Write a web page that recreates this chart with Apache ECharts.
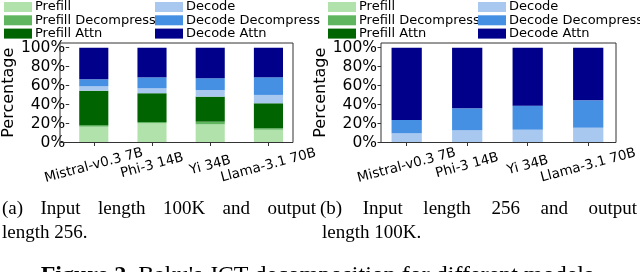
<!DOCTYPE html>
<html>
<head>
<meta charset="utf-8">
<script src="https://cdn.jsdelivr.net/npm/echarts@6/dist/echarts.min.js"></script>
<style>
html,body{margin:0;padding:0;background:#fff;}
#c{width:640px;height:272px;}
</style>
</head>
<body>
<div id="c"></div>
<script>
// ---- data ----
const categories = ['Mistral-v0.3 7B', 'Phi-3 14B', 'Yi 34B', 'Llama-3.1 70B'];
const seriesNames = ['Prefill', 'Prefill Decompress', 'Prefill Attn', 'Decode', 'Decode Decompress', 'Decode Attn'];
const yTicks = [0, 20, 40, 60, 80, 100];

// (a) Input 100K, output 256
const a_prefill = [16.7, 20.3, 19.2, 13.5];
const a_prefillDecompress = [1.6, 1.3, 2.8, 1.5];
const a_prefillAttn = [36.4, 30.4, 26.4, 26.4];
const a_decode = [4.6, 5.2, 7.0, 8.8];
const a_decodeDecompress = [7.4, 11.6, 12.4, 18.6];
const a_decodeAttn = [33.3, 31.2, 32.2, 31.2];

// (b) Input 256, output 100K
const b_prefill = [0, 0, 0, 0];
const b_prefillDecompress = [0, 0, 0, 0];
const b_prefillAttn = [0, 0, 0, 0];
const b_decode = [9.7, 12.9, 13.5, 15.6];
const b_decodeDecompress = [14.1, 23.2, 25.4, 28.9];
const b_decodeAttn = [76.2, 63.9, 61.1, 55.5];

const captionA = ['(a) Input length 100K and output', 'length 256.'];
const captionB = ['(b) Input length 256 and output', 'length 100K.'];
const figureCaptionBold = 'Figure 2.';
const figureCaptionRest = " Baku's JCT decomposition for different models.";

// ---- styles ----
const colors = ['#b2e2ac', '#5fb65f', '#006400', '#a9c8ef', '#4590e3', '#00008b'];
const SANS = 'DejaVu Sans';
const SERIF = 'Liberation Serif';

const setA = [a_prefill, a_prefillDecompress, a_prefillAttn, a_decode, a_decodeDecompress, a_decodeAttn];
const setB = [b_prefill, b_prefillDecompress, b_prefillAttn, b_decode, b_decodeDecompress, b_decodeAttn];

// plot frames (axes boxes) in pixels
const frames = [
  {x: 60, w: 233},
  {x: 381, w: 235}
];
const TOP = 43, H = 99.5;
// matplotlib-like x margins: slot = frame / 3.85
const grids = frames.map(f => {
  const slot = f.w / 3.85;
  const off = (4 * slot - f.w) / 2;
  return {left: f.x - off, width: 4 * slot, top: TOP, height: H, _off: off};
});

function xAxis(gi) {
  return {
    type: 'category', gridIndex: gi, data: categories,
    axisLine: {show: false},
    splitLine: {show: false},
    axisTick: {show: true, alignWithLabel: true, length: 3.5, lineStyle: {color: '#333'}},
    axisLabel: {
      interval: 0,
      rotate: 15, align: 'center', verticalAlign: 'middle', margin: 23,
      fontFamily: SANS, fontSize: 13.5, color: '#000'
    }
  };
}
function yAxis(gi) {
  return {
    type: 'value', gridIndex: gi, min: 0, max: 105,
    offset: -grids[gi]._off,
    name: 'Percentage', nameLocation: 'middle', nameGap: 50, nameRotate: 90,
    nameTextStyle: {fontFamily: SANS, fontSize: 16, color: '#000'},
    axisLine: {show: false},
    splitLine: {show: false},
    axisTick: {show: true, length: 3.5, customValues: yTicks, lineStyle: {color: '#333'}},
    axisLabel: {
      customValues: yTicks, formatter: v => v + '%',
      margin: 4, fontFamily: SANS, fontSize: 15.5, color: '#000'
    }
  };
}

const series = [];
[setA, setB].forEach((set, gi) => {
  set.forEach((arr, si) => {
    series.push({
      name: seriesNames[si], type: 'bar',
      xAxisIndex: gi, yAxisIndex: gi, stack: 's' + gi,
      barWidth: '50%',
      itemStyle: {color: colors[si]},
      data: arr
    });
  });
});

const legendCols = [4, 155, 328, 478];
const ROW = 13.3;
const legends = [];
legendCols.forEach((left, ci) => {
  const names = (ci % 2 === 0) ? seriesNames.slice(0, 3) : seriesNames.slice(3);
  names.forEach((n, ri) => {
    legends.push({
      data: [n], orient: 'vertical', left: left, top: 0.5 + ri * ROW,
      itemWidth: 28, itemHeight: 10, icon: 'rect',
      padding: 0, selectedMode: false,
      textStyle: {fontFamily: SANS, fontSize: 13, color: '#000', padding: [0, 0, 0, -2]}
    });
  });
});

const chart = echarts.init(document.getElementById('c'), null, {renderer: 'canvas'});

// justified caption words
const ctx = document.createElement('canvas').getContext('2d');
function justify(text, x0, x1, y, size) {
  const words = text.split(' ');
  ctx.font = size + 'px "' + SERIF + '"';
  const widths = words.map(w => ctx.measureText(w).width);
  const total = widths.reduce((a, b) => a + b, 0);
  const gap = words.length > 1 ? (x1 - x0 - total) / (words.length - 1) : 0;
  let x = x0;
  return words.map((w, i) => {
    const el = {type: 'text', x: x, y: y, style: {text: w, fontFamily: SERIF, fontSize: size, fill: '#000', textVerticalAlign: 'middle'}};
    x += widths[i] + gap;
    return el;
  });
}
function plain(text, x, y, size, weight) {
  return {type: 'text', x: x, y: y, style: {text: text, fontFamily: SERIF, fontSize: size, fontWeight: weight || 'normal', fill: '#000', textVerticalAlign: 'middle'}};
}
const capSize = 19;
let graphic = [];
frames.forEach(f => {
  graphic.push({type: 'rect', shape: {x: f.x, y: TOP, width: f.w, height: H}, style: {fill: 'none', stroke: '#333', lineWidth: 1}, z: 100, silent: true});
});
graphic = graphic.concat(justify(captionA[0], 2, 316, 209, capSize));
graphic.push(plain(captionA[1], 2, 233, capSize));
graphic = graphic.concat(justify(captionB[0], 320, 637, 209, capSize));
graphic.push(plain(captionB[1], 322, 233, capSize));
const figSize = 24;
ctx.font = 'bold ' + figSize + 'px "' + SERIF + '"';
const wb = ctx.measureText(figureCaptionBold).width;
ctx.font = figSize + 'px "' + SERIF + '"';
const wr = ctx.measureText(figureCaptionRest).width;
const fx = 320 - (wb + wr) / 2;
graphic.push(plain(figureCaptionBold, fx, 276, figSize, 'bold'));
graphic.push(plain(figureCaptionRest, fx + wb, 276, figSize));

chart.setOption({
  animation: false,
  backgroundColor: '#fff',
  grid: grids.map(g => ({left: g.left, width: g.width, top: g.top, height: g.height})),
  xAxis: [xAxis(0), xAxis(1)],
  yAxis: [yAxis(0), yAxis(1)],
  legend: legends,
  series: series,
  graphic: graphic
});
</script>
</body>
</html>
